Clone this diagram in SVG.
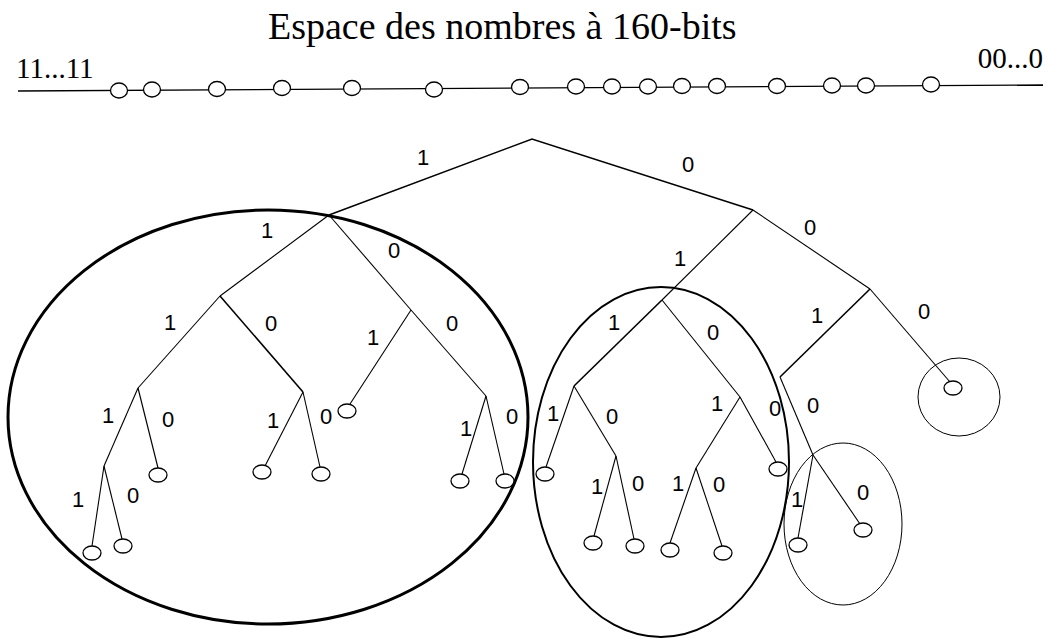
<svg xmlns="http://www.w3.org/2000/svg" width="1049" height="638" viewBox="0 0 1049 638">
<style>
.ttl{font-family:"Liberation Serif",serif;fill:#000}
.lb{font-family:"Liberation Sans",Arial,sans-serif;font-size:22px;fill:#000;text-anchor:middle}
.e{fill:none;stroke:#000}
.lf{fill:#fff;stroke:#000;stroke-width:1.3}
.t{stroke:#000;stroke-width:1.6;fill:none}
.s{stroke:#000;stroke-width:1.1;fill:none}
</style>
<rect width="1049" height="638" fill="#fff"/>
<g id="title">
<text class="ttl" x="268" y="39" font-size="38">Espace des nombres à 160-bits</text>
<text class="ttl" x="16" y="78" font-size="29">11...11</text>
<text class="ttl" x="1043" y="68" font-size="29" text-anchor="end">00...0</text>
</g>
<g id="number-line">
<line x1="18" y1="91" x2="1043" y2="85" stroke="#000" stroke-width="1.3"/>
<ellipse class="lf" cx="119" cy="90.5" rx="8.5" ry="7.5"/>
<ellipse class="lf" cx="152" cy="89.5" rx="8.5" ry="7.5"/>
<ellipse class="lf" cx="217" cy="89" rx="8.5" ry="7.5"/>
<ellipse class="lf" cx="282" cy="88" rx="8.5" ry="7.5"/>
<ellipse class="lf" cx="352" cy="88" rx="8.5" ry="7.5"/>
<ellipse class="lf" cx="434" cy="89.5" rx="8.5" ry="7.5"/>
<ellipse class="lf" cx="520" cy="87" rx="8.5" ry="7.5"/>
<ellipse class="lf" cx="576" cy="86.5" rx="8.5" ry="7.5"/>
<ellipse class="lf" cx="612" cy="86.5" rx="8.5" ry="7.5"/>
<ellipse class="lf" cx="648" cy="86.5" rx="8.5" ry="7.5"/>
<ellipse class="lf" cx="682" cy="86" rx="8.5" ry="7.5"/>
<ellipse class="lf" cx="717" cy="86" rx="8.5" ry="7.5"/>
<ellipse class="lf" cx="777" cy="86" rx="8.5" ry="7.5"/>
<ellipse class="lf" cx="832" cy="85.5" rx="8.5" ry="7.5"/>
<ellipse class="lf" cx="866" cy="85.5" rx="8.5" ry="7.5"/>
<ellipse class="lf" cx="931" cy="84.5" rx="8.5" ry="7.5"/>
</g>
<g id="groups">
<ellipse class="e" cx="268" cy="417" rx="260" ry="207" stroke-width="3"/>
<ellipse class="e" cx="661" cy="462" rx="128" ry="175" stroke-width="2"/>
<ellipse class="e" cx="959" cy="397" rx="41" ry="39" stroke-width="1"/>
<ellipse class="e" cx="843" cy="524" rx="59" ry="81" stroke-width="1"/>
</g>
<g id="connectors">
<polyline class="t" points="329,215 532,139 753,210"/>
<line class="s" x1="329" y1="215" x2="220" y2="296"/>
<line class="s" x1="329" y1="215" x2="411" y2="310"/>
<line class="t" x1="220" y1="296" x2="303" y2="392"/>
<line class="s" x1="220" y1="296" x2="138" y2="388"/>
<line class="s" x1="138" y1="388" x2="104" y2="466"/>
<line class="s" x1="138" y1="388" x2="158" y2="468"/>
<line class="s" x1="104" y1="466" x2="92" y2="546"/>
<line class="s" x1="104" y1="466" x2="122" y2="539"/>
<line class="s" x1="303" y1="392" x2="265" y2="466"/>
<line class="s" x1="303" y1="392" x2="320" y2="467"/>
<line class="s" x1="411" y1="310" x2="350" y2="404"/>
<line class="s" x1="411" y1="310" x2="486" y2="396"/>
<line class="s" x1="486" y1="396" x2="462" y2="474"/>
<line class="s" x1="486" y1="396" x2="504" y2="474"/>
<line class="s" x1="753" y1="210" x2="662" y2="300"/>
<line class="s" x1="753" y1="210" x2="870" y2="289"/>
<line class="t" x1="662" y1="300" x2="574" y2="386"/>
<line class="s" x1="662" y1="300" x2="740" y2="397"/>
<line class="s" x1="574" y1="386" x2="546" y2="467"/>
<line class="s" x1="574" y1="386" x2="616" y2="456"/>
<line class="s" x1="616" y1="456" x2="594" y2="536"/>
<line class="s" x1="616" y1="456" x2="634" y2="539"/>
<line class="s" x1="740" y1="397" x2="696" y2="468"/>
<line class="s" x1="740" y1="397" x2="776" y2="462"/>
<line class="s" x1="696" y1="468" x2="670" y2="543"/>
<line class="s" x1="696" y1="468" x2="722" y2="546"/>
<line class="t" x1="870" y1="289" x2="780" y2="377"/>
<line class="s" x1="870" y1="289" x2="950" y2="382"/>
<line class="s" x1="780" y1="377" x2="813" y2="455"/>
<line class="s" x1="813" y1="455" x2="798" y2="538"/>
<line class="s" x1="813" y1="455" x2="860" y2="524"/>
</g>
<g id="leaves">
<ellipse class="lf" cx="92" cy="553" rx="9" ry="7"/>
<ellipse class="lf" cx="123" cy="546" rx="9" ry="7"/>
<ellipse class="lf" cx="158" cy="475" rx="9" ry="7"/>
<ellipse class="lf" cx="262" cy="472" rx="9" ry="7"/>
<ellipse class="lf" cx="321" cy="474" rx="9" ry="7"/>
<ellipse class="lf" cx="347" cy="411" rx="9" ry="7"/>
<ellipse class="lf" cx="460" cy="481" rx="9" ry="7"/>
<ellipse class="lf" cx="505" cy="481" rx="9" ry="7"/>
<ellipse class="lf" cx="545" cy="474" rx="9" ry="7"/>
<ellipse class="lf" cx="593" cy="543" rx="9" ry="7"/>
<ellipse class="lf" cx="635" cy="546" rx="9" ry="7"/>
<ellipse class="lf" cx="670" cy="550" rx="9" ry="7"/>
<ellipse class="lf" cx="723" cy="553" rx="9" ry="7"/>
<ellipse class="lf" cx="778" cy="469" rx="9" ry="7"/>
<ellipse class="lf" cx="798" cy="545" rx="9" ry="7"/>
<ellipse class="lf" cx="863" cy="530" rx="9" ry="7"/>
<ellipse class="lf" cx="953" cy="388" rx="9" ry="7"/>
</g>
<g id="labels">
<text class="lb" x="423" y="165">1</text>
<text class="lb" x="688" y="172">0</text>
<text class="lb" x="267" y="238">1</text>
<text class="lb" x="394" y="258">0</text>
<text class="lb" x="680" y="266">1</text>
<text class="lb" x="810" y="235">0</text>
<text class="lb" x="170" y="330">1</text>
<text class="lb" x="271" y="331">0</text>
<text class="lb" x="373" y="345">1</text>
<text class="lb" x="452" y="331">0</text>
<text class="lb" x="108" y="423">1</text>
<text class="lb" x="168" y="427">0</text>
<text class="lb" x="273" y="428">1</text>
<text class="lb" x="326" y="424">0</text>
<text class="lb" x="466" y="436">1</text>
<text class="lb" x="512" y="424">0</text>
<text class="lb" x="78" y="507">1</text>
<text class="lb" x="133" y="503">0</text>
<text class="lb" x="614" y="330">1</text>
<text class="lb" x="713" y="340">0</text>
<text class="lb" x="553" y="421">1</text>
<text class="lb" x="612" y="424">0</text>
<text class="lb" x="597" y="494">1</text>
<text class="lb" x="638" y="491">0</text>
<text class="lb" x="717" y="411">1</text>
<text class="lb" x="775" y="416">0</text>
<text class="lb" x="678" y="491">1</text>
<text class="lb" x="719" y="492">0</text>
<text class="lb" x="817" y="323">1</text>
<text class="lb" x="924" y="319">0</text>
<text class="lb" x="813" y="413">0</text>
<text class="lb" x="797" y="507">1</text>
<text class="lb" x="863" y="500">0</text>
</g>
</svg>
